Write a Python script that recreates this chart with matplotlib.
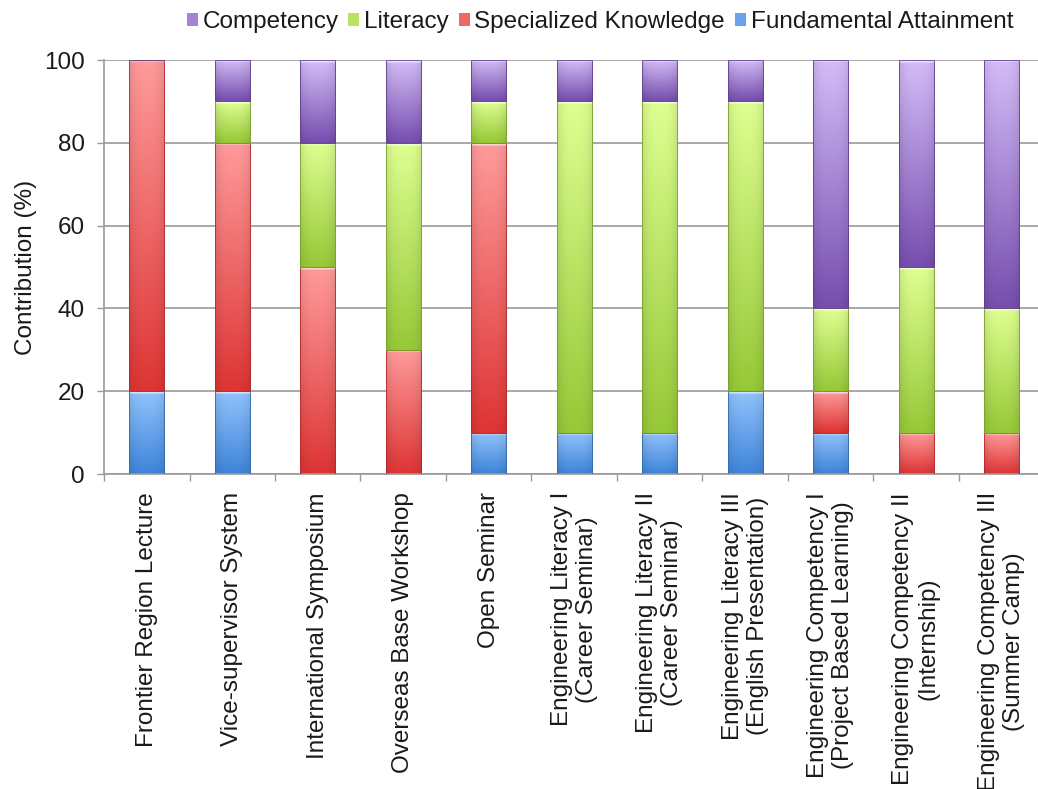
import matplotlib.pyplot as plt
import matplotlib.patches as mpatches
import numpy as np

plt.rcParams['font.family'] = ['Liberation Sans', 'DejaVu Sans']

programs = [
    'Frontier Region Lecture',
    'Vice-supervisor System',
    'International Symposium',
    'Overseas Base Workshop',
    'Open Seminar',
    'Engineering Literacy I\n(Career Seminar)',
    'Engineering Literacy II\n(Career Seminar)',
    'Engineering Literacy III\n(English Presentation)',
    'Engineering Competency I\n(Project Based Learning)',
    'Engineering Competency II\n(Internship)',
    'Engineering Competency III\n(Summer Camp)',
]
fundamental = [20, 20, 0, 0, 10, 10, 10, 20, 10, 0, 0]
specialized = [80, 60, 50, 30, 70, 0, 0, 0, 10, 10, 10]
literacy = [0, 10, 30, 50, 10, 80, 80, 70, 20, 40, 30]
competency = [0, 10, 20, 20, 10, 10, 10, 10, 60, 50, 60]

series = [
    ('Fundamental Attainment', fundamental, (62, 132, 218), (145, 195, 252)),
    ('Specialized Knowledge', specialized, (222, 52, 52), (255, 155, 155)),
    ('Literacy', literacy, (150, 200, 55), (222, 255, 145)),
    ('Competency', competency, (118, 78, 175), (212, 188, 248)),
]

fig = plt.figure(figsize=(10.38, 7.89), dpi=100)
ax = fig.add_axes([0.1002, 0.3992, 0.906, 0.5247])

x = np.arange(len(programs))
width = 0.41
px_per_unit = 4.14


def shade(bar, dark, light):
    x0, y0 = bar.get_x(), bar.get_y()
    w, h = bar.get_width(), bar.get_height()
    if h <= 0:
        return
    rows = max(int(h * px_per_unit), 2)
    cols = 40
    t = np.linspace(0, 1, rows)[:, None]
    u = np.linspace(-1, 1, cols)[None, :]
    dark = np.array(dark) / 255.0
    light = np.array(light) / 255.0
    img = dark + (light - dark) * t[..., None]
    img = img * (1 - 0.10 * np.abs(u[..., None]) ** 3)
    # white cap at the top of each segment
    cap = 4
    if rows > cap:
        k = np.linspace(0, 0.85, cap)[:, None, None]
        img[-cap:] = img[-cap:] * (1 - k) + k
    img = np.clip(img, 0, 1)
    im = ax.imshow(img, extent=(x0, x0 + w, y0, y0 + h), origin='lower',
                   aspect='auto', zorder=2, interpolation='bilinear')
    im.set_clip_path(bar)


bottom = np.zeros(len(programs))
handles = {}
for name, vals, dark, light in series:
    vals = np.array(vals, dtype=float)
    bars = ax.bar(x, vals, width, bottom=bottom, facecolor='none',
                  edgecolor=np.array(dark) / 255.0 * 0.8, linewidth=0.6, zorder=3)
    for b in bars:
        shade(b, dark, light)
    handles[name] = mpatches.Patch(facecolor=np.array(dark) / 255.0 * 0.5 + np.array(light) / 255.0 * 0.5,
                                   edgecolor='none')
    bottom += vals

ax.set_xlim(-0.5, len(programs) - 0.5)
ax.set_ylim(0, 100)
ax.set_yticks([0, 20, 40, 60, 80, 100])
ax.yaxis.grid(True, color='#9a9a9a', linewidth=1.2)
ax.set_axisbelow(True)
ax.tick_params(axis='y', labelsize=17.5, length=5, width=1, color='#9a9a9a',
               pad=9, labelcolor='#1a1a1a')
ax.set_ylabel('Contribution (%)', fontsize=17.5, labelpad=5, color='#1a1a1a')

ax.set_xticks(x)
ax.set_xticklabels(programs, rotation=90, fontsize=17.5, ha='center', va='top',
                   multialignment='center', color='#1a1a1a')
ax.tick_params(axis='x', length=0, pad=13)
ax.set_xticks(np.arange(len(programs) + 1) - 0.5, minor=True)
ax.tick_params(axis='x', which='minor', length=5, width=1, color='#9a9a9a')

for side in ['top', 'right']:
    ax.spines[side].set_visible(False)
for side in ['left', 'bottom']:
    ax.spines[side].set_color('#9a9a9a')
    ax.spines[side].set_linewidth(1.2)

order = ['Competency', 'Literacy', 'Specialized Knowledge', 'Fundamental Attainment']
fig.legend([handles[n] for n in order], order, loc='center', ncol=4,
           bbox_to_anchor=(0.578, 0.972), frameon=False, fontsize=17.5,
           handlelength=0.45, handleheight=0.5, handletextpad=0.2, columnspacing=0.4,
           labelcolor='#1a1a1a')

fig.savefig('out.png', dpi=100)
